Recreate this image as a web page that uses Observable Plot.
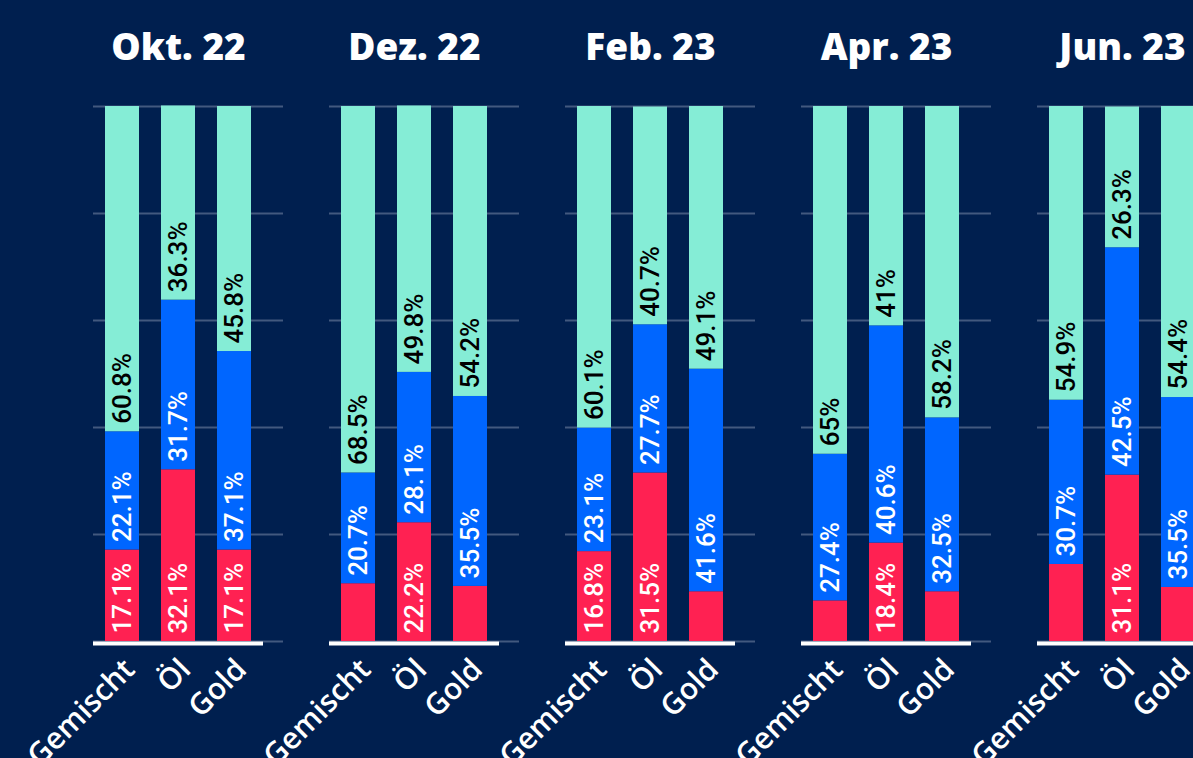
<!DOCTYPE html>
<html><head><meta charset="utf-8">
<script src="https://cdn.jsdelivr.net/npm/d3@7"></script>
<script src="https://cdn.jsdelivr.net/npm/@observablehq/plot@0.6"></script>
<style>
html,body{margin:0;padding:0;background:#001f4f;overflow:hidden;}
#chart{width:1193px;height:758px;overflow:hidden;}
#chart svg{max-width:none !important;width:1300px !important;height:758px !important;}
</style></head><body><div id="chart"></div>
<script>
const months = ["Okt. 22", "Dez. 22", "Feb. 23", "Apr. 23", "Jun. 23"];
const categories = ["Gemischt", "Öl", "Gold"];
const series = ["Rot", "Blau", "Mint"];
// values per month, in category order [Gemischt, Öl, Gold]
const rotValues  = [[17.1, 32.1, 17.1], [10.8, 22.2, 10.3], [16.8, 31.5, 9.3], [7.6, 18.4, 9.3], [14.4, 31.1, 10.1]];
const blauValues = [[22.1, 31.7, 37.1], [20.7, 28.1, 35.5], [23.1, 27.7, 41.6], [27.4, 40.6, 32.5], [30.7, 42.5, 35.5]];
const mintValues = [[60.8, 36.3, 45.8], [68.5, 49.8, 54.2], [60.1, 40.7, 49.1], [65, 41, 58.2], [54.9, 26.3, 54.4]];
const yTicks = [0, 20, 40, 60, 80, 100];
const colors = ["#ff2152", "#0066ff", "#85edd6"];

const seriesValues = [rotValues, blauValues, mintValues];
const data = [];
months.forEach((m, i) => categories.forEach((c, j) => series.forEach((s, k) =>
  data.push({month: m, cat: c, series: s, value: seriesValues[k][i][j]}))));

const labelFont = "Roboto, 'DejaVu Sans', sans-serif";
const chart = Plot.plot({
  width: 1300,
  height: 758,
  marginTop: 106,
  marginBottom: 117,
  marginLeft: 93,
  marginRight: 93,
  style: {background: "#001f4f", color: "white", fontFamily: labelFont},
  fx: {domain: months, paddingInner: 0.28, paddingOuter: 0, label: null},
  x: {domain: categories, paddingInner: 0.393, paddingOuter: 0.214, label: null},
  y: {domain: [0, 100], axis: null},
  color: {domain: series, range: colors},
  marks: [
    Plot.ruleY(yTicks, {stroke: "#42597f", strokeWidth: 2, insetRight: -20}),
    Plot.barY(data, Plot.stackY({fx: "month", x: "cat", y: "value", fill: "series"})),
    Plot.ruleY([0], {stroke: "white", strokeWidth: 4, dy: 2}),
    Plot.text(data, Plot.stackY1({
      fx: "month", x: "cat", y: "value", z: "series",
      text: d => (d.series !== "Mint" && d.value >= 15) ? d.value + "%" : "",
      rotate: -90, textAnchor: "start", lineAnchor: "middle",
      fill: "white", fontSize: 26, fontWeight: 500, fontFamily: labelFont, dy: -8
    })),
    Plot.text(data, Plot.stackY1({
      fx: "month", x: "cat", y: "value", z: "series",
      text: d => (d.series === "Mint" && d.value >= 15) ? d.value + "%" : "",
      rotate: -90, textAnchor: "start", lineAnchor: "middle",
      fill: "black", fontSize: 26, fontWeight: 500, fontFamily: labelFont, dy: -8
    })),
    Plot.axisX({tickRotate: -45, tickSize: 0, tickPadding: 14, dx: 7, dy: 9, fontSize: 30, fontWeight: 600,
      fontFamily: "'Open Sans', sans-serif", fill: "white", label: null}),
    Plot.axisFx({anchor: "top", tickSize: 0, tickPadding: 47, fontSize: 37, fontWeight: 800,
      fontFamily: "'Open Sans', sans-serif", fill: "white", label: null})
  ]
});
document.getElementById("chart").appendChild(chart);
</script>
</body></html>
